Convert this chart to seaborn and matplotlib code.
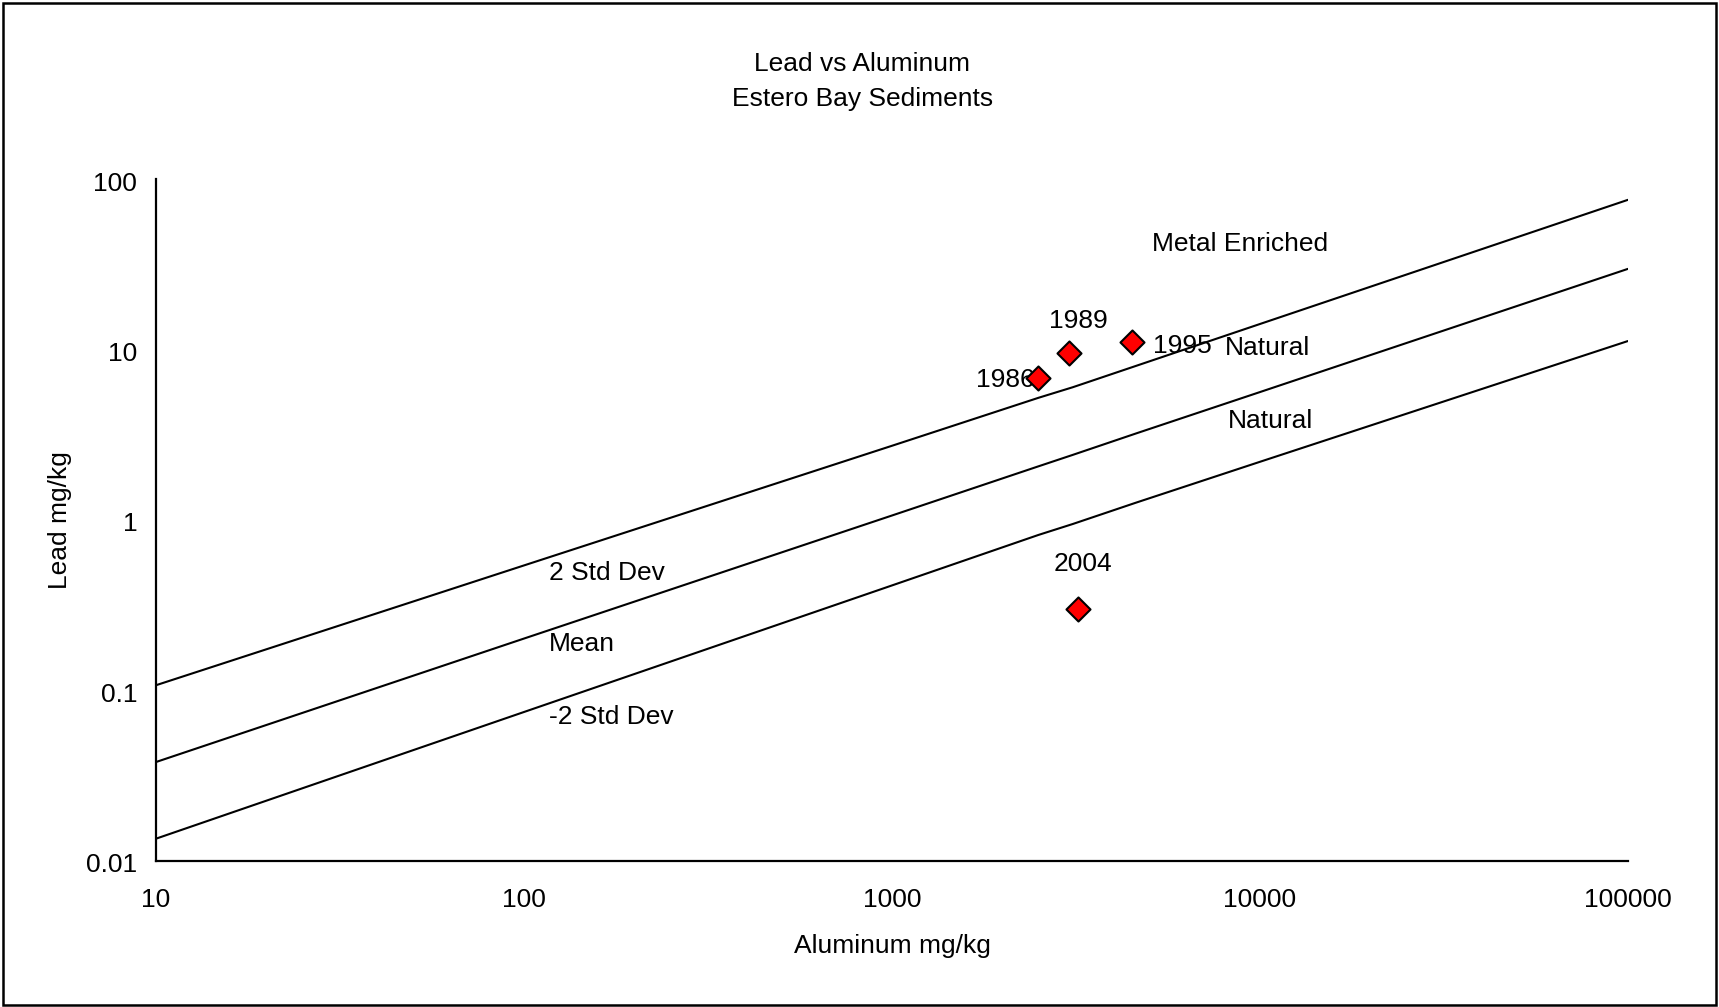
import matplotlib
matplotlib.use("Agg")
import matplotlib.pyplot as plt
from matplotlib.patches import Rectangle
import matplotlib.transforms as mtransforms
import numpy as np
import pandas as pd
import seaborn as sns

# Reference lines (lead vs aluminum relationship), sampled along aluminum
al_grid = [10, 100, 1000, 2500, 3100, 4600, 10000, 100000]
upper_2sd = [0.107, 0.54, 2.72, 5.2, 6.0, 8.0, 14.1, 75.5]
mean_line = [0.0379, 0.201, 1.06, 2.06, 2.405, 3.21, 5.62, 29.7]
lower_2sd = [0.01345, 0.0745, 0.412, 0.815, 0.945, 1.26, 2.19, 11.2]

# Sediment samples
sample_years = ["1986", "1989", "1995", "2004"]
sample_al = [2500, 3030, 4500, 3200]
sample_pb = [6.8, 9.5, 11.0, 0.3]

x_ticks = [10, 100, 1000, 10000, 100000]
x_tick_labels = ["10", "100", "1000", "10000", "100000"]
y_ticks = [0.01, 0.1, 1, 10, 100]
y_tick_labels = ["0.01", "0.1", "1", "10", "100"]

sns.set_style("white")
plt.rcParams["font.family"] = ["Liberation Sans", "DejaVu Sans"]
plt.rcParams["font.size"] = 19
plt.rcParams["text.color"] = "black"
plt.rcParams["axes.labelcolor"] = "black"
plt.rcParams["xtick.color"] = "black"
plt.rcParams["ytick.color"] = "black"

fig = plt.figure(figsize=(17.19, 10.07), dpi=100)
ax = fig.add_axes([0.0908, 0.1454, 0.8562, 0.6768])

lines_df = pd.concat([
    pd.DataFrame({"al": al_grid, "pb": upper_2sd, "curve": "2 Std Dev"}),
    pd.DataFrame({"al": al_grid, "pb": mean_line, "curve": "Mean"}),
    pd.DataFrame({"al": al_grid, "pb": lower_2sd, "curve": "-2 Std Dev"}),
])
sns.lineplot(data=lines_df, x="al", y="pb", units="curve", estimator=None,
             sort=False, color="black", linewidth=1.5, legend=False, ax=ax)

samples_df = pd.DataFrame({"al": sample_al, "pb": sample_pb, "year": sample_years})
sns.scatterplot(data=samples_df, x="al", y="pb", marker="D", s=150,
                color="#ff0000", edgecolor="black", linewidth=1.5,
                legend=False, ax=ax, zorder=5)

ax.set_xscale("log")
ax.set_yscale("log")
ax.set_xlim(10, 100000)
ax.set_ylim(0.01, 100)
ax.set_xticks(x_ticks, x_tick_labels)
ax.set_yticks(y_ticks, y_tick_labels)
ax.minorticks_off()

for side in ["top", "right"]:
    ax.spines[side].set_visible(False)
for side in ["left", "bottom"]:
    ax.spines[side].set_color("black")
    ax.spines[side].set_linewidth(1.6)

ax.tick_params(axis="x", direction="in", length=8, width=1.2, pad=20,
               labelsize=19, colors="black")
ax.tick_params(axis="y", direction="out", length=8, width=1.2, pad=5.5,
               labelsize=19, colors="black")

# nudge the value labels on the lead axis down slightly
down = mtransforms.ScaledTranslation(0, -2.0 / 100, fig.dpi_scale_trans)
for lab in ax.get_yticklabels():
    lab.set_transform(lab.get_transform() + down)

ax.set_xlabel("Aluminum mg/kg", fontsize=19, va="center", color="black")
ax.xaxis.set_label_coords(0.5, -0.1255)
ax.set_ylabel("Lead mg/kg", fontsize=19, va="center", color="black")
ax.yaxis.set_label_coords(-0.0652, 0.5)

# Sample year labels
label_offsets = {
    "1986": (-3, -1.5, "right"),
    "1989": (7, 23.5, "center"),
    "1995": (15, -2.5, "left"),
    "2004": (4, 32.5, "center"),
}
for yr, xv, yv in zip(sample_years, sample_al, sample_pb):
    dx, dy, ha = label_offsets[yr]
    ax.annotate(yr, (xv, yv), xytext=(dx, dy), textcoords="offset points",
                ha=ha, va="center", fontsize=19, color="black", zorder=4)

# Region and curve annotations
region_text = [
    ("Metal Enriched", 0.677, 0.9043),
    ("Natural", 0.726, 0.7517),
    ("Natural", 0.728, 0.6457),
    ("2 Std Dev", 0.267, 0.4217),
    ("Mean", 0.267, 0.3177),
    ("-2 Std Dev", 0.267, 0.2107),
]
for txt, xf, yf in region_text:
    ax.text(xf, yf, txt, transform=ax.transAxes, ha="left", va="center",
            fontsize=19, color="black")

fig.text(0.5015, 0.9362, "Lead vs Aluminum", ha="center", va="center",
         fontsize=19, color="black")
fig.text(0.5015, 0.9020, "Estero Bay Sediments", ha="center", va="center",
         fontsize=19, color="black")

# Outer frame around the whole chart
fig.patches.append(Rectangle((0.0015, 0.002), 0.997, 0.995, transform=fig.transFigure,
                             fill=False, edgecolor="black", linewidth=1.8))

fig.savefig("out.png", dpi=100, facecolor="white")
